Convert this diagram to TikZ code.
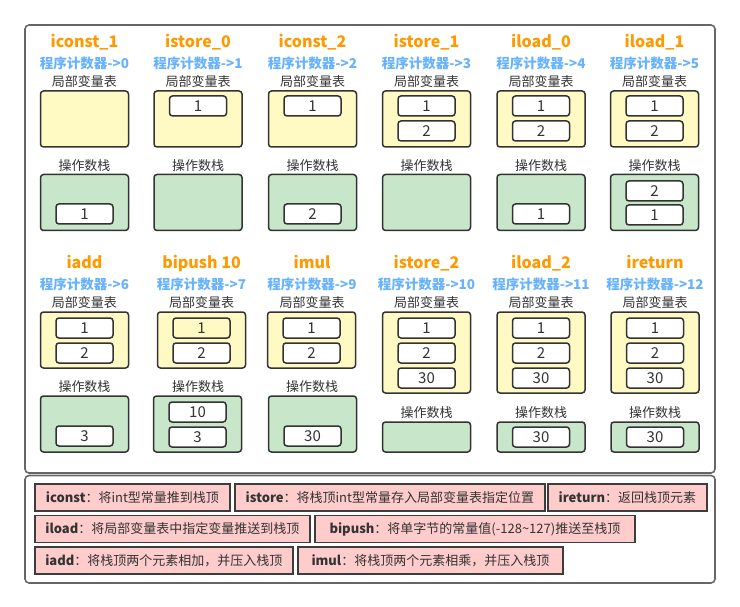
\documentclass[tikz,border=0pt]{standalone}
\usepackage{fontspec}
\setmainfont{Noto Sans CJK SC}
\definecolor{ttlc}{HTML}{FF9900}
\definecolor{pcc}{HTML}{66B2FF}
\definecolor{txt}{HTML}{333333}
\definecolor{yel}{HTML}{FFF9C4}
\definecolor{grn}{HTML}{C8E6C9}
\definecolor{pinkf}{HTML}{FFCCCC}
\definecolor{frm}{HTML}{666666}
\definecolor{edgec}{HTML}{333333}
\definecolor{legedge}{HTML}{3D3D3D}
\tikzset{
 frame/.style={draw=frm, line width=1.6pt, rounded corners=4pt},
 ttl/.style={anchor=base, text=ttlc, font=\fontsize{16}{19}\selectfont\bfseries, inner sep=0pt},
 pclbl/.style={text=pcc, font=\fontsize{13.5}{16}\selectfont\bfseries, inner sep=0pt},
 lbl/.style={text=txt, font=\fontsize{13}{15}\selectfont, inner sep=0pt},
 lvt/.style={draw=edgec, fill=yel, line width=1.5pt, rounded corners=3pt, minimum width=88pt, minimum height=56pt, inner sep=0pt},
 ops/.style={lvt, fill=grn},
 slot/.style={draw=edgec, fill=white, line width=1.5pt, rounded corners=3pt, minimum width=57pt, minimum height=20pt, inner sep=0pt, text=txt, font=\fontsize{15}{18}\selectfont},
 leg/.style={draw=legedge, fill=pinkf, line width=1.8pt, anchor=west, minimum height=27pt, inner sep=0pt, text=txt, font=\fontsize{13}{15}\selectfont},
}
% #1 prefix, #2 x, #3 row offset, #4 title, #5 pc, #6 y of ops label
\newcommand\hdr[6]{%
 \node[ttl] (#1t) at (#2,47.5+#3) {#4};
 \node[pclbl] (#1p) at (#2,63+#3) {#5};
 \node[lbl] (#1l) at (#2,82+#3) {局部变量表};
 \node[lbl] (#1o) at (#2,#6) {操作数栈};
}
\begin{document}
\begin{tikzpicture}[x=1pt,y=-1pt]
\useasboundingbox (0,0) rectangle (740,607);
\draw[frame] (25,25) rectangle (715,473);
\draw[frame] (25,475.5) rectangle (715,583);

% ---------- top row ----------
\hdr{a}{84.5}{0}{iconst\_1}{程序计数器->0}{166}
\node[lvt] (alv) at (84.5,119) {};
\node[ops] (aop) at (84.5,202.5) {};
\node[slot] (aos1) at (84.5,214) {1};

\hdr{b}{198}{0}{istore\_0}{程序计数器->1}{166}
\node[lvt] (blv) at (198,119) {};
\node[slot] (bls1) at (198,106) {1};
\node[ops] (bop) at (198,202.5) {};

\hdr{c}{312.5}{0}{iconst\_2}{程序计数器->2}{166}
\node[lvt] (clv) at (312.5,119) {};
\node[slot] (cls1) at (312.5,106) {1};
\node[ops] (cop) at (312.5,202.5) {};
\node[slot] (cos1) at (312.5,214) {2};

\hdr{d}{426.5}{0}{istore\_1}{程序计数器->3}{166}
\node[lvt] (dlv) at (426.5,119) {};
\node[slot] (dls1) at (426.5,106) {1};
\node[slot] (dls2) at (426.5,131) {2};
\node[ops] (dop) at (426.5,202.5) {};

\hdr{e}{541}{0}{iload\_0}{程序计数器->4}{166}
\node[lvt] (elv) at (541,119) {};
\node[slot] (els1) at (541,106) {1};
\node[slot] (els2) at (541,131) {2};
\node[ops] (eop) at (541,202.5) {};
\node[slot] (eos1) at (541,214) {1};

\hdr{f}{654.5}{0}{iload\_1}{程序计数器->5}{166}
\node[lvt] (flv) at (654.5,119) {};
\node[slot] (fls1) at (654.5,106) {1};
\node[slot] (fls2) at (654.5,131) {2};
\node[ops] (fop) at (654.5,202.5) {};
\node[slot] (fos1) at (654.5,191) {2};
\node[slot] (fos2) at (654.5,215) {1};

% ---------- bottom row ----------
\hdr{g}{84.5}{221}{iadd}{程序计数器->6}{387}
\node[lvt] (glv) at (84.5,340) {};
\node[slot] (gls1) at (84.5,328) {1};
\node[slot] (gls2) at (84.5,353) {2};
\node[ops] (gop) at (84.5,424) {};
\node[slot] (gos1) at (84.5,436) {3};

\node[ttl] (ht) at (201.5,268.5) {bipush 10};
\node[pclbl] (hp) at (201.5,284) {程序计数器->7};
\node[lbl] (hl) at (201.5,303) {局部变量表};
\node[lbl] (ho) at (198,387) {操作数栈};
\node[lvt] (hlv) at (201.5,340) {};
\node[slot, fill=yel] (hls1) at (201.5,328) {1};
\node[slot] (hls2) at (201.5,353) {2};
\node[ops] (hop) at (197.5,424) {};
\node[slot] (hos1) at (197.5,412) {10};
\node[slot] (hos2) at (197.5,437) {3};

\hdr{i}{312}{221}{imul}{程序计数器->9}{387}
\node[lvt] (ilv) at (311.5,340) {};
\node[slot] (ils1) at (311.5,328) {1};
\node[slot] (ils2) at (311.5,353) {2};
\node[ops] (iop) at (312.5,424) {};
\node[slot] (ios1) at (312.5,436) {30};

\hdr{j}{426.5}{221}{istore\_2}{程序计数器->10}{413}
\node[lvt, minimum height=81pt] (jlv) at (426.5,352.5) {};
\node[slot] (jls1) at (426.5,328) {1};
\node[slot] (jls2) at (426.5,353) {2};
\node[slot] (jls3) at (426.5,378) {30};
\node[ops, minimum height=30pt] (jop) at (426.5,437) {};

\hdr{k}{541}{221}{iload\_2}{程序计数器->11}{413}
\node[lvt, minimum height=81pt] (klv) at (541,352.5) {};
\node[slot] (kls1) at (541,328) {1};
\node[slot] (kls2) at (541,353) {2};
\node[slot] (kls3) at (541,378) {30};
\node[ops, minimum height=30pt] (kop) at (541,437) {};
\node[slot] (kos1) at (541,437) {30};

\hdr{l}{655}{221}{ireturn}{程序计数器->12}{413}
\node[lvt, minimum height=81pt] (llv) at (655,352.5) {};
\node[slot] (lls1) at (655,328) {1};
\node[slot] (lls2) at (655,353) {2};
\node[slot] (lls3) at (655,378) {30};
\node[ops, minimum height=30pt] (lop) at (655,437) {};
\node[slot] (los1) at (655,437) {30};

% ---------- legend ----------
\node[leg, minimum width=195pt] (g1) at (34,497.5) {\textbf{iconst}：将int型常量推到栈顶};
\node[leg, minimum width=310pt] (g2) at (234,497.5) {\textbf{istore}：将栈顶int型常量存入局部变量表指定位置};
\node[leg, minimum width=159pt] (g3) at (547,497.5) {\textbf{ireturn}：返回栈顶元素};
\node[leg, minimum width=275pt] (g4) at (34,529) {\textbf{iload}：将局部变量表中指定变量推送到栈顶};
\node[leg, minimum width=320pt] (g5) at (314,529) {\textbf{bipush}：将单字节的常量值(-128\textasciitilde 127)推送至栈顶};
\node[leg, minimum width=258pt] (g6) at (34,560.5) {\textbf{iadd}：将栈顶两个元素相加，并压入栈顶};
\node[leg, minimum width=265pt] (g7) at (297,560.5) {\textbf{imul}：将栈顶两个元素相乘，并压入栈顶};
\end{tikzpicture}
\end{document}
